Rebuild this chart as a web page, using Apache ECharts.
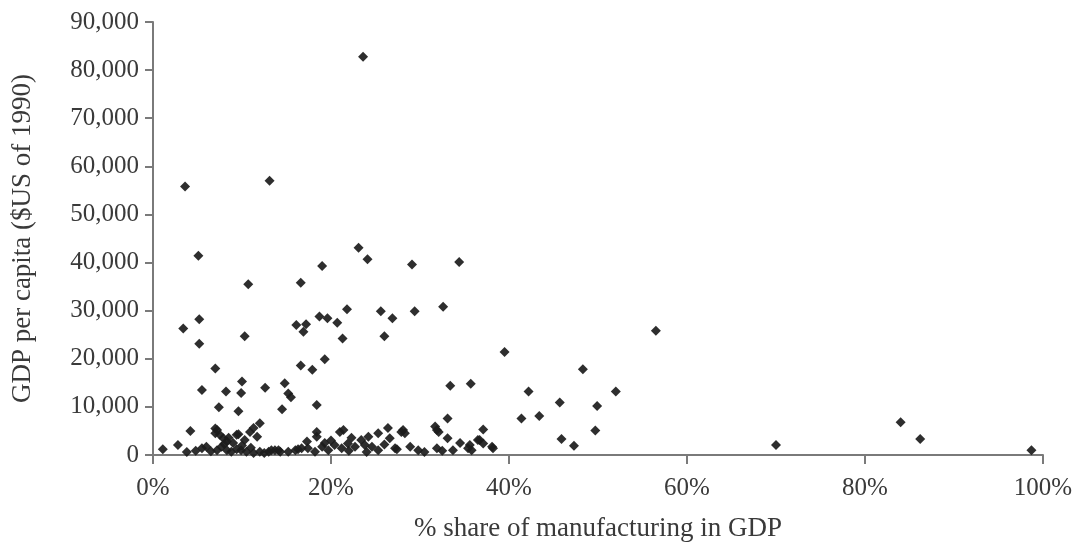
<!DOCTYPE html>
<html>
<head>
<meta charset="utf-8">
<style>
  html, body { margin: 0; padding: 0; background: #ffffff; }
  #chart { width: 1073px; height: 545px; }
</style>
<script src="https://cdn.jsdelivr.net/npm/echarts@6/dist/echarts.min.js"></script>
</head>
<body>
<div id="chart"></div>
<script>
// Manufacturing share of GDP (%) for each country-observation
const shareMfg = [
  23.6, 3.6, 13.1, 5.1, 10.7, 16.6, 19.0, 23.1, 24.1, 29.1, 34.4,
  3.4, 5.2, 5.2, 10.3, 16.1, 17.2, 16.9, 18.7, 19.6, 20.7, 21.8, 21.3, 25.6, 26.9, 26.0, 29.4, 32.6,
  16.6, 17.9, 19.3, 7.0, 5.5, 8.2, 10.0, 9.9, 7.4, 9.6, 12.6, 14.8, 15.2, 15.5, 14.5, 18.4, 4.2, 12.0,
  39.5, 56.5, 33.4, 35.7, 48.3, 42.2, 52.0, 45.7, 49.9, 33.1, 41.4, 43.4, 49.7, 45.9, 47.3, 37.1, 33.1, 70.0, 84.0, 86.2, 98.7,
  7.0, 7.5, 7.9, 8.3, 9.6, 10.9, 11.3, 10.3, 1.1, 2.8, 3.8, 5.5, 6.0, 12.0, 13.0, 13.7, 7.2, 7.7, 8.3, 8.8, 9.4, 9.9, 10.5,
  8.0, 9.0, 11.7, 7.2, 7.0, 9.4, 8.5, 10.0, 11.0, 6.5, 4.8,
  18.4, 18.4, 21.4, 17.3, 26.4, 26.6, 25.3, 27.9, 21.0,
  14.1, 15.2, 16.3, 19.0, 19.7, 20.4, 21.2, 21.9, 22.7, 23.4, 23.8, 24.6, 25.3, 27.2, 17.4, 18.2,
  11.3, 12.5, 13.3, 14.3, 16.0, 16.7,
  28.1, 28.3, 31.7, 32.1, 36.7, 37.1, 35.6, 35.8, 38.1, 28.9, 29.8, 31.9, 33.7, 27.4, 35.4, 36.5, 38.2, 31.9,
  20.0, 22.3, 24.2, 19.3, 22.0, 24.0, 26.0, 30.5, 32.5, 34.5
];

// GDP per capita in 1990 US dollars, same order as shareMfg
const gdpPerCapita = [
  82800, 55800, 57000, 41400, 35500, 35800, 39300, 43100, 40700, 39600, 40100,
  26300, 28200, 23100, 24700, 27000, 27200, 25600, 28800, 28400, 27500, 30300, 24200, 29900, 28400, 24700, 29900, 30800,
  18600, 17700, 19900, 18000, 13500, 13200, 15300, 12900, 9900, 9100, 14000, 14900, 12800, 12000, 9500, 10400, 5000, 6600,
  21400, 25800, 14400, 14800, 17800, 13200, 13200, 10900, 10200, 7600, 7600, 8100, 5100, 3300, 1900, 5300, 3500, 2100, 6800, 3300, 1000,
  5500, 4200, 3500, 2800, 4300, 4800, 5600, 3100, 1200, 2100, 600, 1400, 1700, 700, 700, 1000, 1000, 1700, 1000, 700, 1200, 1000, 700,
  2300, 2500, 3800, 5200, 4500, 4200, 3600, 2000, 1500, 800, 900,
  4800, 3800, 5200, 2800, 5600, 3500, 4500, 4800, 4800,
  1000, 700, 1200, 1700, 1000, 2100, 1400, 2400, 1700, 3100, 2100, 1700, 1000, 1400, 1400, 700,
  400, 400, 1000, 700, 1000, 1400,
  5200, 4500, 5900, 4800, 3100, 2400, 2100, 1000, 1700, 1700, 1000, 1400, 1000, 1200, 1400, 3100, 1400, 5200,
  3000, 3600, 3800, 2500, 900, 600, 2200, 600, 900, 2500
];

// Axis ranges and tick spacing
const xTickValues = [0, 20, 40, 60, 80, 100];
const yTickStep = 10000;
const yMax = 90000;

const points = shareMfg.map((x, i) => [x, gdpPerCapita[i]]);

const axisGrey = '#7a7a7a';
const textGrey = '#3a3a3a';
const serif = '"Liberation Serif", "Times New Roman", serif';

const chart = echarts.init(document.getElementById('chart'), null, { renderer: 'canvas' });

chart.setOption({
  animation: false,
  backgroundColor: '#ffffff',
  grid: {
    left: 153, right: 30, top: 22, bottom: 90,
    containLabel: false,
    outerBoundsMode: 'none'
  },
  xAxis: {
    type: 'value',
    min: xTickValues[0],
    max: xTickValues[xTickValues.length - 1],
    interval: xTickValues[1] - xTickValues[0],
    name: '% share of manufacturing in GDP',
    nameLocation: 'middle',
    nameGap: 60,
    nameTextStyle: { fontFamily: serif, fontSize: 27, color: textGrey },
    axisLine: { show: true, onZero: false, lineStyle: { color: axisGrey, width: 2 } },
    axisTick: { show: true, inside: false, length: 9, lineStyle: { color: axisGrey, width: 2 } },
    axisLabel: {
      fontFamily: serif, fontSize: 25, color: textGrey, margin: 21,
      formatter: v => v + '%'
    },
    splitLine: { show: false }
  },
  yAxis: {
    type: 'value',
    min: 0,
    max: yMax,
    interval: yTickStep,
    name: 'GDP per capita ($US of 1990)',
    nameLocation: 'middle',
    nameGap: 117,
    nameRotate: 90,
    nameTextStyle: { fontFamily: serif, fontSize: 27, color: textGrey },
    axisLine: { show: true, onZero: false, lineStyle: { color: axisGrey, width: 2 } },
    axisTick: { show: true, inside: false, length: 8, lineStyle: { color: axisGrey, width: 2 } },
    axisLabel: {
      fontFamily: serif, fontSize: 25, color: textGrey, margin: 14,
      formatter: v => v.toLocaleString('en-US')
    },
    splitLine: { show: false }
  },
  series: [{
    type: 'scatter',
    data: points,
    symbol: 'diamond',
    symbolSize: 10,
    itemStyle: { color: '#1c1c1c', opacity: 0.92 }
  }]
});
</script>
</body>
</html>
